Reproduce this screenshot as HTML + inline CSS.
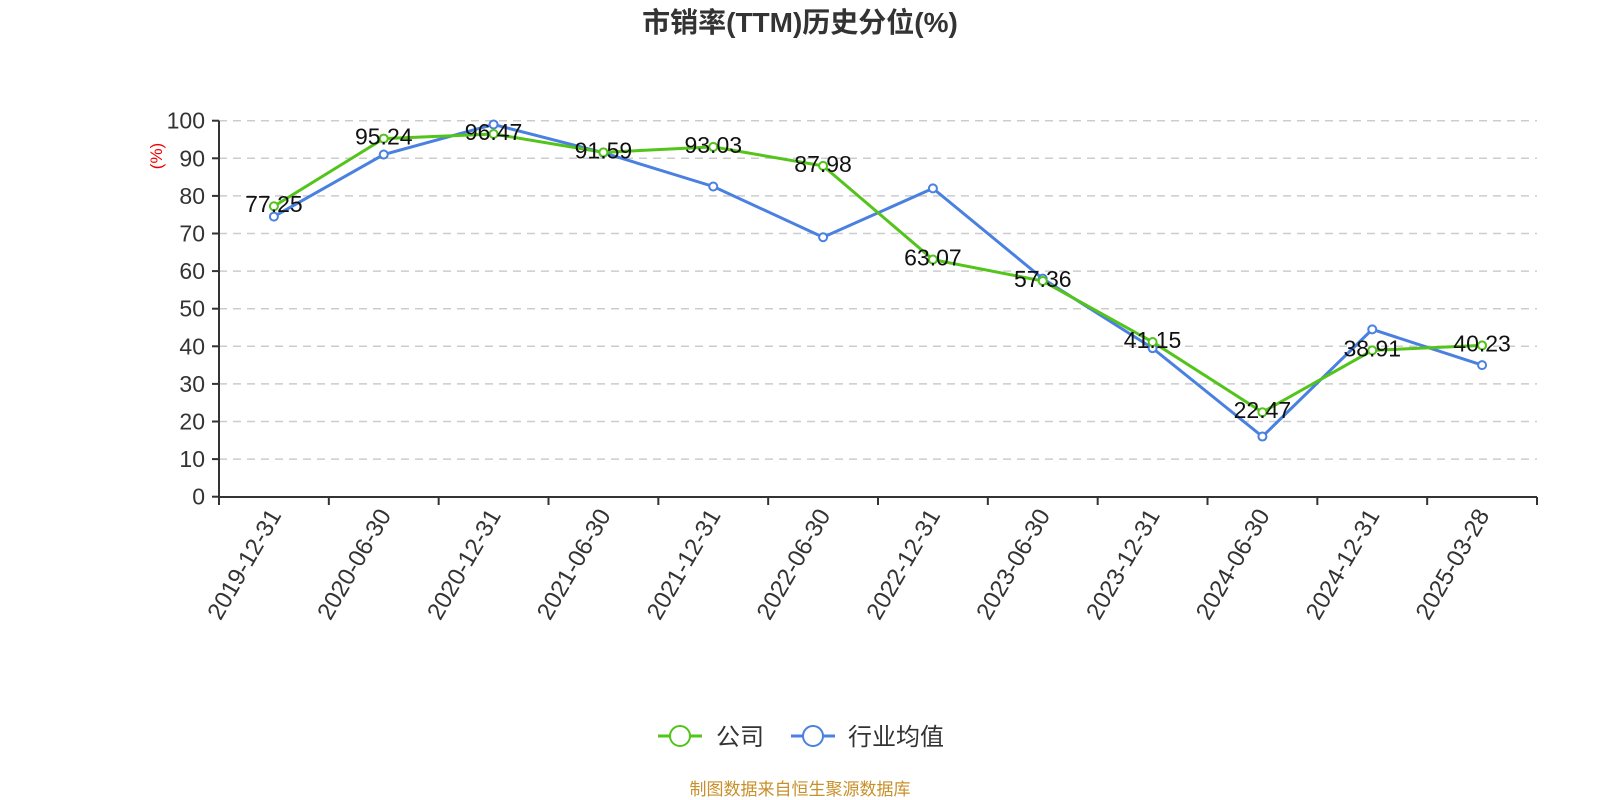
<!DOCTYPE html>
<html><head><meta charset="utf-8"><style>
body{margin:0;background:#fff;}
svg{display:block;font-family:"Liberation Sans","Noto Sans CJK SC",sans-serif;}
</style></head><body>
<svg width="1600" height="800" viewBox="0 0 1600 800" xmlns="http://www.w3.org/2000/svg">
<text x="800" y="32" text-anchor="middle" font-size="28" font-weight="bold" fill="#333">市销率(TTM)历史分位(%)</text>
<g id="grid" stroke="#ccc" stroke-width="1.5" stroke-dasharray="8,6"></g>
<g id="yl" font-size="23" fill="#333" text-anchor="end"></g>
<text transform="translate(162,156) rotate(-90)" text-anchor="middle" font-size="17" fill="#e00">(%)</text>
<line x1="219" y1="120.7" x2="219" y2="497" stroke="#333" stroke-width="2"/>
<line x1="219" y1="497" x2="1537" y2="497" stroke="#333" stroke-width="2"/>
<g id="xt" stroke="#333" stroke-width="2"></g>
<g id="xl" font-size="24" fill="#333" text-anchor="end"></g>
<polyline id="pb" fill="none" stroke="#4a80e0" stroke-width="3"/>
<polyline id="pg" fill="none" stroke="#52c41a" stroke-width="3"/>
<g id="mk"></g>
<g id="lab" font-size="23" fill="#111" text-anchor="middle"></g>
<line x1="658" y1="736" x2="702" y2="736" stroke="#52c41a" stroke-width="3"/>
<circle cx="680" cy="736" r="10" fill="#fff" stroke="#52c41a" stroke-width="2"/>
<text x="716" y="745" font-size="24" fill="#333">公司</text>
<line x1="791" y1="736" x2="835" y2="736" stroke="#4a80e0" stroke-width="3"/>
<circle cx="813" cy="736" r="10" fill="#fff" stroke="#4a80e0" stroke-width="2"/>
<text x="848" y="745" font-size="24" fill="#333">行业均值</text>
<text x="800" y="795" text-anchor="middle" font-size="17" fill="#c8902a">制图数据来自恒生聚源数据库</text>
</svg>
<script>
const ns="http://www.w3.org/2000/svg";
function el(p,t,a,txt){const e=document.createElementNS(ns,t);for(const k in a)e.setAttribute(k,a[k]);if(txt!=null)e.textContent=txt;document.getElementById(p).appendChild(e);}
const y=v=>496.7-v*3.76, x0=219,w=(1537-219)/12, x=i=>x0+w*(i+0.5);
for(let v=0;v<=100;v+=10){ if(v>0) el("grid","line",{x1:219,x2:1537,y1:y(v),y2:y(v)});
 el("yl","text",{x:205,y:y(v)+8},v); el("xt","line",{x1:212,x2:219,y1:y(v),y2:y(v)});}
for(let i=0;i<=12;i++) el("xt","line",{x1:x0+w*i,x2:x0+w*i,y1:497,y2:505});
const d=["2019-12-31","2020-06-30","2020-12-31","2021-06-30","2021-12-31","2022-06-30","2022-12-31","2023-06-30","2023-12-31","2024-06-30","2024-12-31","2025-03-28"];
const g=[77.25,95.24,96.47,91.59,93.03,87.98,63.07,57.36,41.15,22.47,38.91,40.23];
const b=[74.5,91,99,91.5,82.5,69,82,58,39.5,16,44.5,35];
d.forEach((s,i)=>el("xl","text",{transform:`translate(${x(i)+8},${515}) rotate(-60)`},s));
document.getElementById("pb").setAttribute("points",b.map((v,i)=>x(i)+","+y(v)).join(" "));
document.getElementById("pg").setAttribute("points",g.map((v,i)=>x(i)+","+y(v)).join(" "));
b.forEach((v,i)=>el("mk","circle",{cx:x(i),cy:y(v),r:4,fill:"#fff",stroke:"#4a80e0","stroke-width":2}));
g.forEach((v,i)=>el("mk","circle",{cx:x(i),cy:y(v),r:4,fill:"#fff",stroke:"#52c41a","stroke-width":2}));
g.forEach((v,i)=>el("lab","text",{x:x(i),y:y(v)+6},v.toFixed(2)));
</script>
</body></html>
